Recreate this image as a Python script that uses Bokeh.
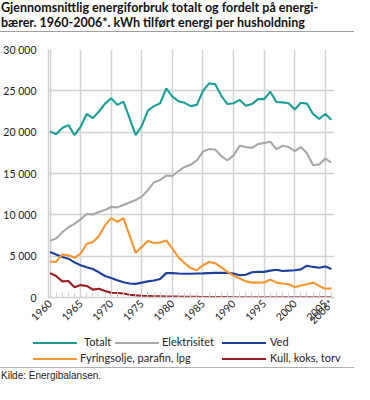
from bokeh.plotting import figure
from bokeh.models import Range1d, FixedTicker, Div
from bokeh.layouts import column
from bokeh.embed import file_html
from bokeh.resources import INLINE
import math

years = list(range(1960, 2007))

totalt = [20100, 19750, 20500, 20850, 19650, 20650, 22200, 21700, 22500, 23450,
          24100, 23300, 23700, 21700, 19650, 20750, 22600, 23150, 23500, 25300,
          24300, 23750, 23550, 23150, 23300, 25000, 25900, 25800, 24400, 23400,
          23500, 23900, 23200, 23400, 24000, 24000, 24900, 23650, 23600, 23500,
          22750, 23550, 23450, 22200, 21600, 22200, 21500]

elektrisitet = [6850, 7150, 7900, 8500, 8900, 9450, 10100, 10050, 10350, 10600,
                10950, 10900, 11200, 11500, 11800, 12200, 13000, 13950, 14200, 14750,
                14700, 15300, 15800, 16050, 16600, 17650, 17950, 17900, 17100, 16600,
                17200, 18350, 18200, 18100, 18550, 18700, 18850, 17950, 18350, 18200,
                17700, 18200, 17450, 16000, 16100, 16800, 16300]

ved = [5500, 5200, 4900, 4700, 4250, 3900, 3650, 3450, 3050, 2600,
       2350, 2100, 1850, 1700, 1650, 1800, 1950, 2050, 2250, 2950,
       2950, 2900, 2880, 2870, 2900, 2920, 2950, 2980, 2980, 2970,
       2900, 2700, 2750, 3050, 3100, 3100, 3250, 3350, 3200, 3250,
       3300, 3400, 3850, 3700, 3600, 3750, 3450]

fyringsolje = [4350, 4300, 5200, 5100, 4800, 5300, 6500, 6700, 7450, 8750,
               9600, 9150, 9600, 7500, 5400, 6150, 6850, 6600, 6650, 6900,
               5900, 4850, 4150, 3550, 3300, 3900, 4300, 4150, 3650, 3100,
               2650, 2300, 1950, 1800, 1800, 1820, 2200, 1800, 1700, 1600,
               1250, 1450, 1600, 1800, 1400, 1050, 1100]

kull = [2950, 2600, 1950, 2000, 1250, 1500, 1400, 950, 1050, 800,
        580, 550, 480, 330, 260, 210, 190, 160, 150, 130,
        120, 100, 90, 80, 70, 60, 50, 45, 40, 40,
        35, 35, 30, 30, 30, 30, 25, 25, 25, 25,
        20, 20, 20, 20, 20, 20, 20]

series = [
    ("Totalt", totalt, "#1a9e96"),
    ("Elektrisitet", elektrisitet, "#a7a7a7"),
    ("Ved", ved, "#1d3f9b"),
    ("Fyringsolje, parafin, lpg", fyringsolje, "#f7962e"),
    ("Kull, koks, torv", kull, "#9b1c22"),
]

x_ticks = [1960, 1965, 1970, 1975, 1980, 1985, 1990, 1995, 2000, 2005, 2006]
x_tick_labels = {2006: "2006*"}
y_ticks = [0, 5000, 10000, 15000, 20000, 25000, 30000]
y_tick_labels = {0: "0", 5000: "5 000", 10000: "10 000", 15000: "15 000",
                 20000: "20 000", 25000: "25 000", 30000: "30 000"}

title_lines = ["Gjennomsnittlig energiforbruk totalt og fordelt på energi-",
               "bærer. 1960-2006*. kWh tilført energi per husholdning"]
source = "Kilde: Energibalansen."

FONT = "Lato"
W = 354
GRID = "#d2d2d2"

# ---------- header (HTML) ----------
HH = 38
hdr_html = (
    f'<div style="position:relative;width:{W}px;height:{HH}px;">'
    f'<div style="position:absolute;left:1px;top:0px;white-space:nowrap;font-family:Lato;'
    f'font-weight:bold;font-size:12.5px;line-height:15px;color:#111111;">'
    f'{title_lines[0]}<br>{title_lines[1]}</div>'
    f'<div style="position:absolute;left:0px;top:31px;width:{W}px;height:1px;background:#a0a0a0;"></div>'
    f'</div>'
)
hdr = Div(text=hdr_html, width=W, height=HH, margin=0)

# ---------- main ----------
p = figure(width=W, height=299, x_range=Range1d(1959.75, 2006.5), y_range=Range1d(0, 30000),
           output_backend="svg", toolbar_location=None,
           min_border_left=43, min_border_right=20, min_border_top=11, min_border_bottom=40)
p.outline_line_color = None
for name, vals, col in series:
    p.line(years, vals, line_color=col, line_width=2.1)

p.xaxis.ticker = FixedTicker(ticks=x_ticks, minor_ticks=years)
p.xaxis.major_label_overrides = x_tick_labels
p.xaxis.major_label_orientation = math.pi / 4
p.xaxis.axis_line_color = GRID
p.xaxis.axis_line_width = 1.5
p.xaxis.major_tick_in = 5
p.xaxis.major_tick_out = 0
p.xaxis.major_tick_line_color = GRID
p.xaxis.minor_tick_in = 5
p.xaxis.minor_tick_out = 0
p.xaxis.minor_tick_line_color = GRID
p.xaxis.major_label_text_font = FONT
p.xaxis.major_label_text_font_size = "10.5px"
p.xaxis.major_label_text_color = "#222222"
p.xaxis.major_label_standoff = 4

p.yaxis.ticker = FixedTicker(ticks=y_ticks)
p.yaxis.major_label_overrides = y_tick_labels
p.yaxis.axis_line_color = GRID
p.yaxis.axis_line_width = 1.5
p.yaxis.major_tick_line_color = None
p.yaxis.minor_tick_line_color = None
p.yaxis.major_label_text_font = FONT
p.yaxis.major_label_text_font_size = "10.5px"
p.yaxis.major_label_text_color = "#222222"
p.yaxis.major_label_standoff = 6

p.xgrid.ticker = FixedTicker(ticks=x_ticks[:-1])
p.xgrid.grid_line_color = GRID
p.xgrid.grid_line_width = 1.5
p.ygrid.grid_line_color = GRID
p.ygrid.grid_line_width = 1.5

# ---------- legend / source (HTML) ----------
LH = 47
positions = [(33, 6, 84), (115, 6, 162), (222, 6, 270), (33, 22, 80), (222, 22, 270)]
parts = [f'<div style="position:relative;width:{W}px;height:{LH}px;font-family:Lato;'
         f'font-size:11px;line-height:14px;color:#222222;">']
for (name, vals, col), (lx, ly, tx) in zip(series, positions):
    parts.append(f'<div style="position:absolute;left:{lx}px;top:{ly - 1}px;width:44px;'
                 f'height:2px;background:{col};"></div>')
    parts.append(f'<div style="position:absolute;left:{tx}px;top:{ly - 8}px;'
                 f'white-space:nowrap;">{name}</div>')
parts.append(f'<div style="position:absolute;left:0px;top:30px;width:{W}px;height:1px;'
             f'background:#b0b0b0;"></div>')
parts.append(f'<div style="position:absolute;left:1px;top:33px;white-space:nowrap;'
             f'font-family:\'Liberation Sans\';font-size:10px;line-height:12px;">{source}</div>')
parts.append('</div>')
leg = Div(text="".join(parts), width=W, height=LH, margin=0)

layout = column(hdr, p, leg, spacing=0)
open("out.html", "w").write(file_html(layout, INLINE))
